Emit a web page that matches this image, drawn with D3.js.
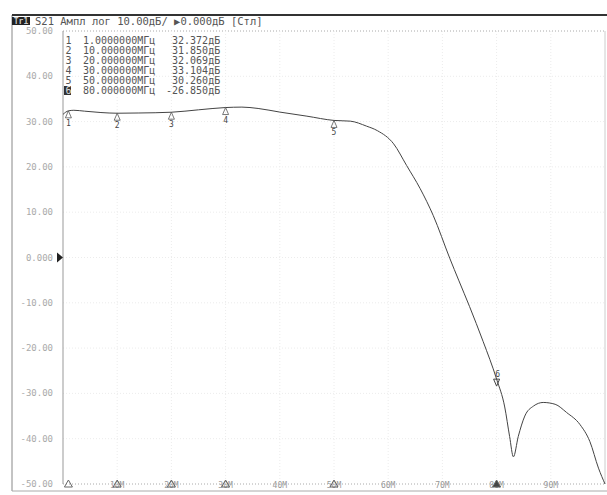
<!DOCTYPE html>
<html>
<head>
<meta charset="utf-8">
<script src="https://cdn.jsdelivr.net/npm/d3@7"></script>
<style>
body{margin:0;background:#fff;}
svg{display:block;}
</style>
</head>
<body>
<div id="chart"></div>
<script>
// trace S21, MHz / dB
var freq = [0, 1, 2, 4, 7, 10, 14, 20, 25, 30, 33, 36, 40, 45, 50, 53, 56, 58, 61, 63.4, 65.9, 68.3, 71.4, 73, 75, 77.5, 80, 81.5, 82.4, 83.1, 84, 85.2, 86.8, 88.6, 90.8, 92.9, 95.4, 97.2, 98.8, 100];
var gain = [31.6, 32.372, 32.5, 32.3, 32.0, 31.85, 31.9, 32.069, 32.6, 33.104, 33.2, 32.9, 32.1, 31.2, 30.26, 30.1, 29.0, 28.0, 25.1, 20.3, 15.2, 9.3, -0.3, -5, -10.8, -18.5, -26.85, -33, -39.5, -44, -39.5, -35, -32.8, -32.0, -32.4, -34.2, -36.9, -40.6, -46.5, -50];

// marker table
var markerNum = [1, 2, 3, 4, 5, 6];
var markerFreq = [1, 10, 20, 30, 50, 80];
var markerGain = [32.372, 31.850, 32.069, 33.104, 30.260, -26.850];
var markerFreqText = ["1.0000000", "10.000000", "20.000000", "30.000000", "50.000000", "80.000000"];

var yTicks = [50, 40, 30, 20, 10, 0, -10, -20, -30, -40, -50];
var yTickText = ["50.00", "40.00", "30.00", "20.00", "10.00", "0.000", "-10.00", "-20.00", "-30.00", "-40.00", "-50.00"];
var xTicks = [10, 20, 30, 40, 50, 60, 70, 80, 90];
var xTickText = ["10M", "20M", "30M", "40M", "50M", "60M", "70M", "80M", "90M"];

var W = 607, H = 495;
var mono = "'DejaVu Sans Mono', 'Liberation Mono', monospace";

var svg = d3.select("#chart").append("svg")
    .attr("width", W)
    .attr("height", H);

var x = d3.scaleLinear().domain([0, 100]).range([63, 605]);
var y = d3.scaleLinear().domain([-50, 50]).range([484, 31]);

//outer frame
svg.append("line").attr("x1", 12).attr("x2", 12).attr("y1", 15).attr("y2", 491)
    .attr("stroke", "#888").attr("stroke-width", 1);
svg.append("line").attr("x1", 12).attr("x2", 607).attr("y1", 491).attr("y2", 491)
    .attr("stroke", "#aaa").attr("stroke-width", 1);
svg.append("line").attr("x1", 12).attr("x2", 607).attr("y1", 15).attr("y2", 15)
    .attr("stroke", "#333").attr("stroke-width", 2);

//header
svg.append("rect").attr("x", 12).attr("y", 17).attr("width", 18).attr("height", 8).attr("fill", "#222");
svg.append("text").attr("x", 21).attr("y", 24).attr("text-anchor", "middle")
    .attr("font-family", mono).attr("font-size", 8).attr("font-weight", "bold")
    .attr("fill", "#ccc").text("Tr1");
svg.append("text").attr("x", 35).attr("y", 25)
    .attr("font-family", mono).attr("font-size", 10.5).attr("fill", "#555")
    .text("S21 Ампл лог 10.00дБ/ ▶0.000дБ [Стл]");

//grid
var grid = svg.append("g");
grid.selectAll(".hg").data(yTicks).enter().append("line")
    .attr("x1", x(0)).attr("x2", x(100))
    .attr("y1", function(d){ return y(d); })
    .attr("y2", function(d){ return y(d); })
    .attr("stroke", function(d){ return (d == 50 || d == -50) ? "#aaa" : "#ececec"; })
    .attr("stroke-dasharray", "1,2");
grid.selectAll(".vg").data(xTicks).enter().append("line")
    .attr("x1", function(d){ return x(d); })
    .attr("x2", function(d){ return x(d); })
    .attr("y1", y(50)).attr("y2", y(-50))
    .attr("stroke", "#ececec")
    .attr("stroke-dasharray", "1,2");
svg.append("line").attr("x1", x(0)).attr("x2", x(0)).attr("y1", y(50)).attr("y2", y(-50))
    .attr("stroke", "#999");
svg.append("line").attr("x1", x(100)).attr("x2", x(100)).attr("y1", y(50)).attr("y2", y(-50))
    .attr("stroke", "#ccc");

//y labels
svg.selectAll(".yl").data(yTicks).enter().append("text")
    .attr("x", 53)
    .attr("y", function(d){ return y(d) + 3; })
    .attr("text-anchor", "end")
    .attr("font-family", mono).attr("font-size", 9).attr("fill", "#aaa")
    .text(function(d, i){ return yTickText[i]; });
svg.append("path")
    .attr("d", "M" + (x(0) - 6) + "," + (y(0) - 5) + " L" + x(0) + "," + y(0) + " L" + (x(0) - 6) + "," + (y(0) + 5) + "Z")
    .attr("fill", "#222");

//x labels
svg.selectAll(".xl").data(xTicks).enter().append("text")
    .attr("x", function(d){ return x(d); })
    .attr("y", 488)
    .attr("text-anchor", "middle")
    .attr("font-family", mono).attr("font-size", 8).attr("fill", "#999")
    .text(function(d, i){ return xTickText[i]; });

//marker flags on the frequency axis
svg.selectAll(".xm").data(markerFreq).enter().append("path")
    .attr("d", function(d){
        var cx = x(d), by = 487;
        return "M" + (cx - 4) + "," + by + " L" + cx + "," + (by - 7) + " L" + (cx + 4) + "," + by + "Z";
    })
    .attr("fill", function(d, i){ return i == 5 ? "#444" : "none"; })
    .attr("stroke", "#666").attr("stroke-width", 1);

//marker table
var table = svg.append("g").attr("font-family", mono).attr("font-size", 10).attr("fill", "#555");
markerNum.forEach(function(n, i){
    var ty = 44 + i * 10;
    if(i == 5){
        table.append("rect").attr("x", 64).attr("y", ty - 8).attr("width", 7).attr("height", 9).attr("fill", "#333");
        table.append("text").attr("x", 65.5).attr("y", ty).attr("fill", "#ddd").text(n);
    } else {
        table.append("text").attr("x", 65.5).attr("y", ty).text(n);
    }
    table.append("text").attr("x", 83).attr("y", ty).text(markerFreqText[i] + "МГц");
    var v = markerGain[i].toFixed(3);
    while(v.length < 7) v = " " + v;
    table.append("text").attr("x", 166).attr("y", ty).attr("xml:space", "preserve").text(v + "дБ");
});

//trace
var pts = freq.map(function(f, i){ return [f, gain[i]]; });
var line = d3.line()
    .x(function(d){ return x(d[0]); })
    .y(function(d){ return y(d[1]); })
    .curve(d3.curveMonotoneX);
svg.append("path").datum(pts)
    .attr("d", line)
    .attr("fill", "none")
    .attr("stroke", "#444")
    .attr("stroke-width", 1);

//markers on trace
markerFreq.forEach(function(f, i){
    var cx = x(f), cy = y(markerGain[i]);
    if(i < 5){
        svg.append("path")
            .attr("d", "M" + (cx - 3) + "," + (cy + 7) + " L" + cx + "," + cy + " L" + (cx + 3) + "," + (cy + 7) + "Z")
            .attr("fill", "none").attr("stroke", "#555").attr("stroke-width", 0.8);
        svg.append("text").attr("x", cx).attr("y", cy + 15).attr("text-anchor", "middle")
            .attr("font-family", mono).attr("font-size", 8).attr("fill", "#444").text(markerNum[i]);
    } else {
        svg.append("text").attr("x", cx + 1).attr("y", cy - 2).attr("text-anchor", "middle")
            .attr("font-family", mono).attr("font-size", 8).attr("fill", "#444").text(markerNum[i]);
        svg.append("path")
            .attr("d", "M" + (cx - 3) + "," + (cy) + " L" + cx + "," + (cy + 7) + " L" + (cx + 3) + "," + (cy) + "Z")
            .attr("fill", "none").attr("stroke", "#444").attr("stroke-width", 1);
    }
});
</script>
</body>
</html>
